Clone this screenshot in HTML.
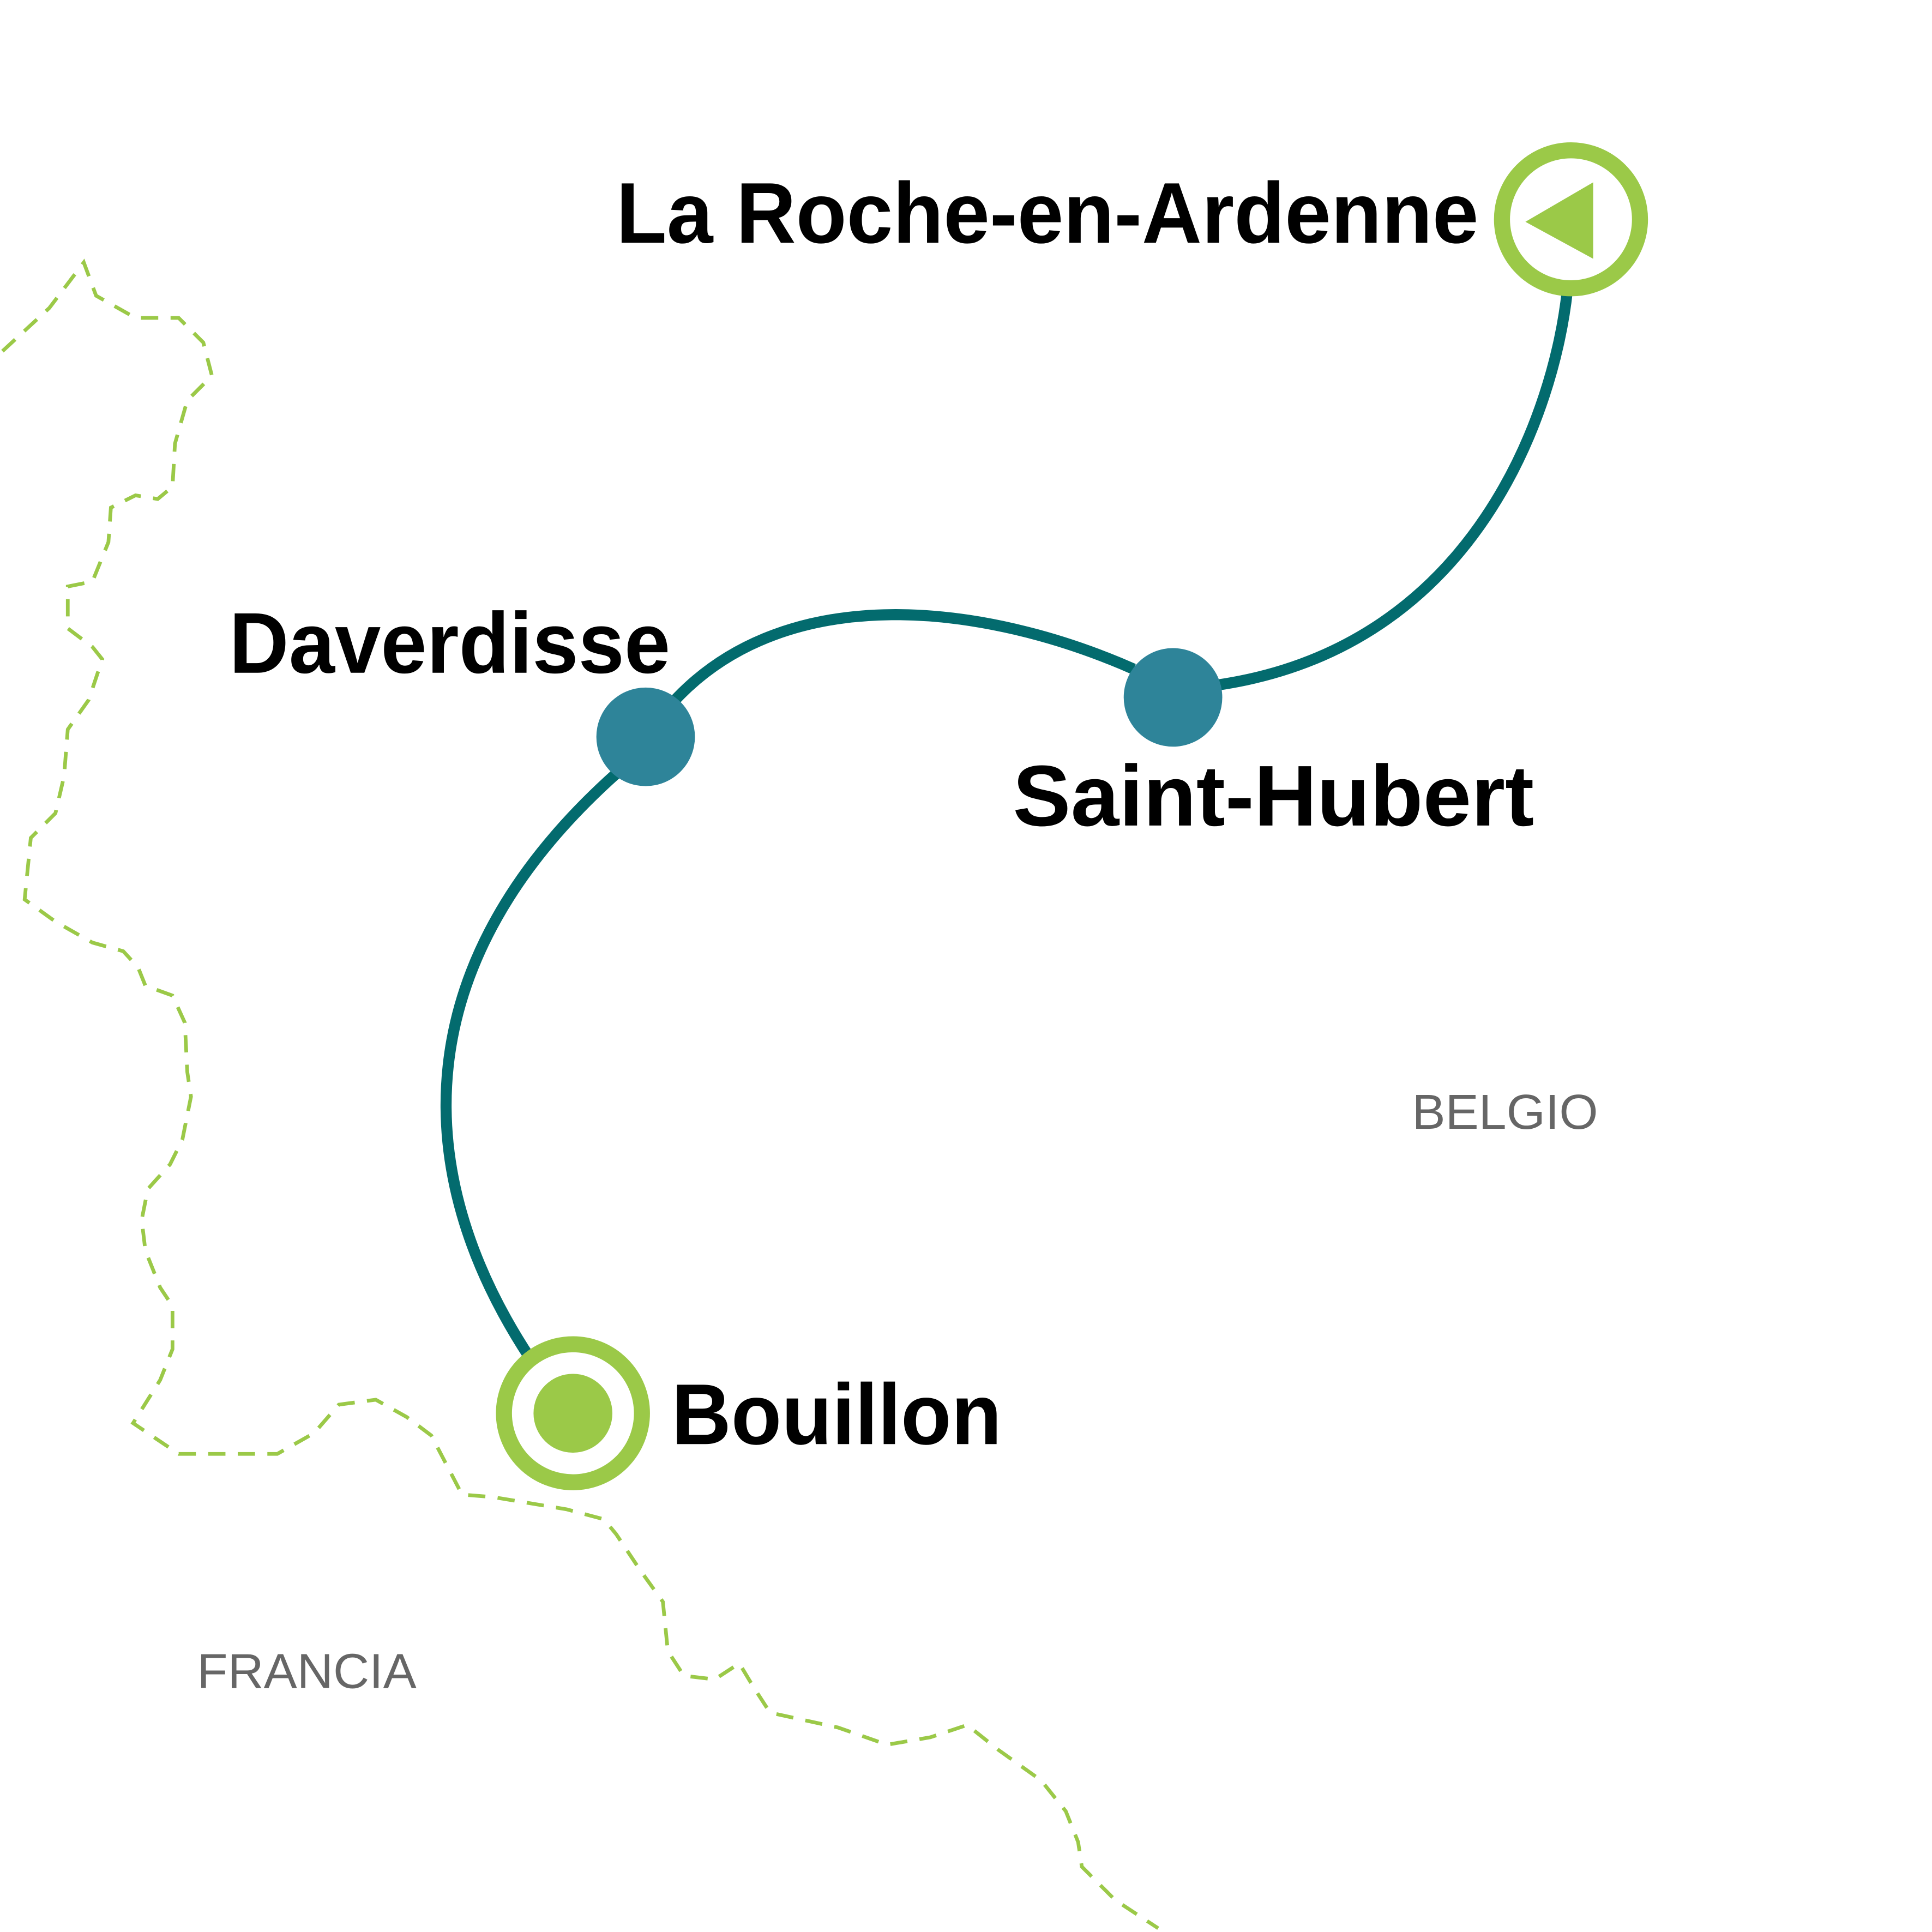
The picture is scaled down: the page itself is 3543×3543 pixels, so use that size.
<!DOCTYPE html>
<html><head><meta charset="utf-8"><style>html,body{margin:0;padding:0;background:#fff}svg{display:block}</style></head>
<body>
<svg width="3543" height="3543" viewBox="0 0 1568 1568" xmlns="http://www.w3.org/2000/svg">
<rect width="1568" height="1568" fill="#fff"/>
<polyline fill="none" stroke="#9bc948" stroke-width="3" stroke-dasharray="14 10" points="2,285 40,250 68,213 78,240 110,258 145,258 165,278 172,305 152,325 142,360 140,395 128,405 110,402 90,412 88,440 75,472 55,476 55,510 75,525 83,535 72,568 55,592 52,630 45,660 25,680 20,730 45,748 75,765 100,772 112,785 118,800 140,808 150,830 152,870 155,890 148,925 138,945 120,965 115,990 118,1015 130,1045 140,1060 140,1095 130,1120 108,1155 145,1180 225,1180 255,1163 275,1140 305,1136 330,1150 350,1165 375,1213 400,1215 460,1225 490,1233 500,1245 520,1275 538,1300 542,1340 555,1360 580,1363 600,1350 612,1370 625,1390 680,1402 720,1416 755,1410 785,1400 810,1420 845,1445 865,1470 875,1495 878,1515 905,1542 940,1565"/>
<g fill="none" stroke="#036b6e" stroke-width="9">
<path d="M430,1102 C330,950 330,780 500,628"/>
<path d="M548,568 C640,470 800,490 920,543"/>
<path d="M988,556 C1200,525 1262,330 1272,236"/>
</g>
<circle cx="524" cy="598" r="40" fill="#2e8499"/>
<circle cx="952" cy="566" r="40" fill="#2e8499"/>
<circle cx="1275" cy="178" r="56" fill="#fff" stroke="#9bc948" stroke-width="13"/>
<polygon points="1293,148 1293,210 1238,180" fill="#9bc948"/>
<circle cx="465" cy="1147" r="56" fill="#fff" stroke="#9bc948" stroke-width="13"/>
<circle cx="465" cy="1147" r="32" fill="#9bc948"/>
<g font-family="'Liberation Sans', sans-serif" font-weight="bold" font-size="70" fill="#000">
<text x="500" y="197" textLength="700" lengthAdjust="spacingAndGlyphs">La Roche-en-Ardenne</text>
<text x="186" y="546" textLength="358" lengthAdjust="spacingAndGlyphs">Daverdisse</text>
<text x="822" y="670" textLength="423" lengthAdjust="spacingAndGlyphs">Saint-Hubert</text>
<text x="545" y="1172" textLength="268" lengthAdjust="spacingAndGlyphs">Bouillon</text>
</g>
<g font-family="'Liberation Sans', sans-serif" font-size="40" fill="#666">
<text x="1146" y="916" textLength="151" lengthAdjust="spacingAndGlyphs">BELGIO</text>
<text x="160" y="1370" textLength="178" lengthAdjust="spacingAndGlyphs">FRANCIA</text>
</g>
</svg>
</body></html>
